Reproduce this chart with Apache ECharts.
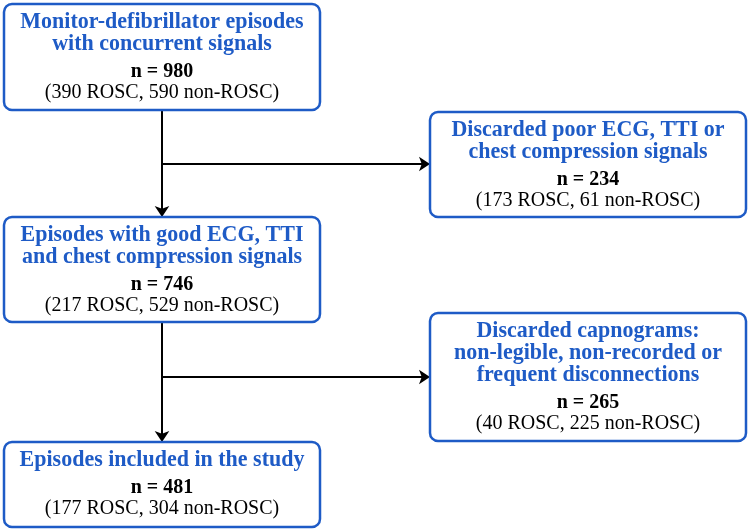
<!DOCTYPE html>
<html>
<head>
<meta charset="utf-8">
<script src="https://cdn.jsdelivr.net/npm/echarts@6/dist/echarts.min.js"></script>
<style>
  html, body { margin: 0; padding: 0; background: #fff; }
  #chart { width: 750px; height: 530px; }
</style>
</head>
<body>
<div id="chart"></div>
<script>
// flow chart content
const titles = [
  ['Monitor-defibrillator episodes', 'with concurrent signals'],
  ['Discarded poor ECG, TTI or', 'chest compression signals'],
  ['Episodes with good ECG, TTI', 'and chest compression signals'],
  ['Discarded capnograms:', 'non-legible, non-recorded or', 'frequent disconnections'],
  ['Episodes included in the study']
]
const totals = [980, 234, 746, 265, 481]
const rosc = [390, 173, 217, 40, 177]
const nonRosc = [590, 61, 529, 225, 304]

// box layout: x0, x1, y0, y1 (page units)
const boxLayout = [
  [4, 320, 4, 110],
  [430, 746, 112, 217],
  [4, 320, 217, 322],
  [430, 746, 313, 441],
  [4, 320, 442, 527]
]
// connectors: from point -> to point, arrow at the end
const links = [
  [[162, 110], [162, 217]],
  [[162, 164], [430, 164]],
  [[162, 322], [162, 442]],
  [[162, 377], [430, 377]]
]

const BLUE = '#1e5bc6'
const FONT = 'Liberation Serif'

// one line of text, a bit taller than the font to match the original
function textEl (x, y, str, color, font) {
  return {
    type: 'text',
    x: x,
    y: y,
    scaleY: 1.08,
    style: { x: 0, y: 0, text: str, fill: color, font: font, align: 'center', verticalAlign: 'middle' }
  }
}

function renderBox (params, api) {
  let i = params.dataIndex
  let b = boxLayout[i]
  let p0 = api.coord([b[0], b[2]])
  let p1 = api.coord([b[1], b[3]])
  let cx = (p0[0] + p1[0]) / 2
  let children = [{
    type: 'rect',
    shape: { x: p0[0], y: p0[1], width: p1[0] - p0[0], height: p1[1] - p0[1], r: 8 },
    style: { fill: '#fff', stroke: BLUE, lineWidth: 2.5 }
  }]
  let base = p0[1] + 25
  titles[i].forEach((line, k) => {
    children.push(textEl(cx, base + k * 22 - 7, line, BLUE, 'bold 22px "' + FONT + '"'))
  })
  let nBase = base + (titles[i].length - 1) * 22 + 27
  children.push(textEl(cx, nBase - 6.5, 'n = ' + totals[i], '#000', 'bold 20px "' + FONT + '"'))
  children.push(textEl(cx, nBase + 21 - 6.5, '(' + rosc[i] + ' ROSC, ' + nonRosc[i] + ' non-ROSC)', '#000', '20px "' + FONT + '"'))
  return { type: 'group', children: children }
}

let myChart = echarts.init(document.getElementById('chart'))
myChart.setOption({
  animation: false,
  grid: { left: 0, right: 0, top: 0, bottom: 0 },
  xAxis: { type: 'value', min: 0, max: 750, show: false },
  yAxis: { type: 'value', min: 0, max: 530, inverse: true, show: false },
  series: [
    {
      type: 'lines',
      coordinateSystem: 'cartesian2d',
      symbol: ['none', 'arrow'],
      symbolSize: [0, 11],
      lineStyle: { color: '#000', width: 2, opacity: 1 },
      data: links.map(l => ({ coords: l })),
      z: 1
    },
    {
      type: 'custom',
      coordinateSystem: 'cartesian2d',
      renderItem: renderBox,
      data: titles.map((t, i) => [i]),
      z: 2
    }
  ]
})
</script>
</body>
</html>
